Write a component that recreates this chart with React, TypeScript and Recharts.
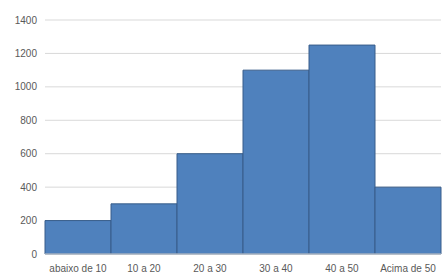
import React from "react";
import { BarChart, Bar, XAxis, YAxis, CartesianGrid } from "recharts";

const categories = ["abaixo de 10", "10 a 20", "20 a 30", "30 a 40", "40 a 50", "Acima de 50"];
const counts = [200, 300, 600, 1100, 1250, 400];
const yTicks = [0, 200, 400, 600, 800, 1000, 1200, 1400];

const data = categories.map((c, i) => ({ name: c, value: counts[i] }));

const tickStyle = { fontFamily: "Liberation Sans, Arial, sans-serif", fontSize: 10, fill: "#595959" };

export default function App() {
  return (
    <div style={{ position: "absolute", left: 0, top: 0 }}>
      <BarChart
        width={447}
        height={280}
        data={data}
        margin={{ top: 20, right: 6, bottom: 0, left: 0 }}
        barCategoryGap={0}
      >
        <CartesianGrid vertical={false} stroke="#D9D9D9" />
        <XAxis
          dataKey="name"
          height={26}
          tickLine={false}
          axisLine={{ stroke: "#D9D9D9" }}
          tick={tickStyle}
          tickSize={6}
          tickMargin={5}
          interval={0}
        />
        <YAxis
          width={45}
          domain={[0, 1400]}
          ticks={yTicks}
          tickLine={false}
          axisLine={false}
          tick={tickStyle}
          tickSize={6}
          tickMargin={2}
        />
        <Bar dataKey="value" fill="#4F81BD" stroke="#385D8A" strokeWidth={1} isAnimationActive={false} />
      </BarChart>
    </div>
  );
}
